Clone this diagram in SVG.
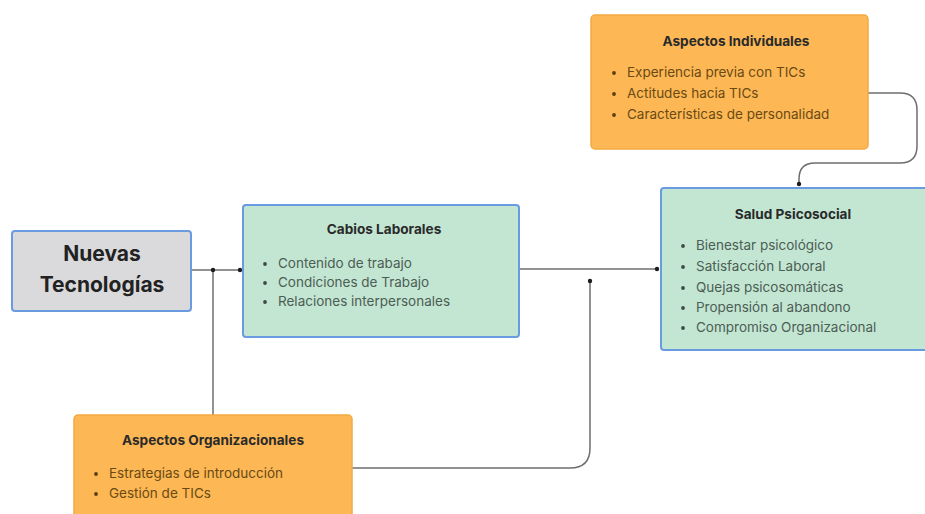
<svg xmlns="http://www.w3.org/2000/svg" width="925" height="514" viewBox="0 0 925 514">
  <defs>
    <style>
      .box-blue { stroke: #6a9be0; stroke-width: 2; }
      .gray { fill: #dadadd; }
      .green { fill: #c3e6d3; }
      .orange { fill: #fdb855; stroke: #f4a941; stroke-width: 1.5; }
      .big { font-family: Inter, "Liberation Sans", sans-serif; font-weight: 700; font-size: 21px; fill: #222; text-anchor: middle; }
      .title { font-family: Inter, "Liberation Sans", sans-serif; font-weight: 700; font-size: 13.6px; fill: #2a2a2a; text-anchor: middle; }
      .item-g { font-family: Inter, "Liberation Sans", sans-serif; font-size: 13.5px; fill: #4c5d54; }
      .item-o { font-family: Inter, "Liberation Sans", sans-serif; font-size: 13.5px; fill: #6a4a14; }
      .bullet-g { fill: #3e4a44; }
      .bullet-o { fill: #5a3e10; }
      .wire { fill: none; stroke: #6e6e6e; stroke-width: 1.5; }
      .dot { fill: #1c1c1c; }
    </style>
  </defs>

  <rect width="925" height="514" fill="#ffffff"/>

  <!-- connectors -->
  <g id="connectors">
    <path class="wire" d="M191 270 H241"/>
    <path class="wire" d="M213 415 V270"/>
    <path class="wire" d="M519 269 H657"/>
    <path class="wire" d="M352 468 H570 Q590 468 590 448 V281"/>
    <path class="wire" d="M868 93 H900 Q917 93 917 110 V146 Q917 163 900 163 H815 Q799 163 799 179 V184"/>
    <circle class="dot" cx="213" cy="270" r="2.2"/>
    <circle class="dot" cx="240" cy="270" r="2.2"/>
    <circle class="dot" cx="657" cy="269" r="2.2"/>
    <circle class="dot" cx="590" cy="281" r="2.2"/>
    <circle class="dot" cx="799" cy="184" r="2.2"/>
  </g>

  <!-- Nuevas Tecnologías -->
  <g id="nuevas-tecnologias">
    <rect class="gray box-blue" x="12" y="231" width="179" height="80" rx="3"/>
    <text class="big" x="102" y="261">Nuevas</text>
    <text class="big" x="102" y="292">Tecnologías</text>
  </g>

  <!-- Cabios Laborales -->
  <g id="cabios-laborales">
    <rect class="green box-blue" x="243" y="205" width="276" height="132" rx="3"/>
    <text class="title" x="384" y="234">Cabios Laborales</text>
    <circle class="bullet-g" cx="265" cy="264" r="1.9"/>
    <text class="item-g" x="278" y="268">Contenido de trabajo</text>
    <circle class="bullet-g" cx="265" cy="283" r="1.9"/>
    <text class="item-g" x="278" y="287">Condiciones de Trabajo</text>
    <circle class="bullet-g" cx="265" cy="302" r="1.9"/>
    <text class="item-g" x="278" y="306">Relaciones interpersonales</text>
  </g>

  <!-- Aspectos Individuales -->
  <g id="aspectos-individuales">
    <rect class="orange" x="591" y="15" width="277" height="134" rx="4"/>
    <text class="title" x="736" y="46">Aspectos Individuales</text>
    <circle class="bullet-o" cx="614" cy="73" r="1.9"/>
    <text class="item-o" x="627" y="77">Experiencia previa con TICs</text>
    <circle class="bullet-o" cx="614" cy="94" r="1.9"/>
    <text class="item-o" x="627" y="98">Actitudes hacia TICs</text>
    <circle class="bullet-o" cx="614" cy="115" r="1.9"/>
    <text class="item-o" x="627" y="119">Características de personalidad</text>
  </g>

  <!-- Salud Psicosocial -->
  <g id="salud-psicosocial">
    <rect class="green box-blue" x="661" y="188" width="272" height="162" rx="3"/>
    <text class="title" x="793" y="219">Salud Psicosocial</text>
    <circle class="bullet-g" cx="683" cy="246" r="1.9"/>
    <text class="item-g" x="696" y="250">Bienestar psicológico</text>
    <circle class="bullet-g" cx="683" cy="267" r="1.9"/>
    <text class="item-g" x="696" y="271">Satisfacción Laboral</text>
    <circle class="bullet-g" cx="683" cy="288" r="1.9"/>
    <text class="item-g" x="696" y="292">Quejas psicosomáticas</text>
    <circle class="bullet-g" cx="683" cy="308" r="1.9"/>
    <text class="item-g" x="696" y="312">Propensión al abandono</text>
    <circle class="bullet-g" cx="683" cy="328" r="1.9"/>
    <text class="item-g" x="696" y="332">Compromiso Organizacional</text>
  </g>

  <!-- Aspectos Organizacionales -->
  <g id="aspectos-organizacionales">
    <rect class="orange" x="74" y="415" width="278" height="110" rx="4"/>
    <text class="title" x="213" y="445">Aspectos Organizacionales</text>
    <circle class="bullet-o" cx="96" cy="474" r="1.9"/>
    <text class="item-o" x="109" y="478">Estrategias de introducción</text>
    <circle class="bullet-o" cx="96" cy="494" r="1.9"/>
    <text class="item-o" x="109" y="498">Gestión de TICs</text>
  </g>
</svg>
